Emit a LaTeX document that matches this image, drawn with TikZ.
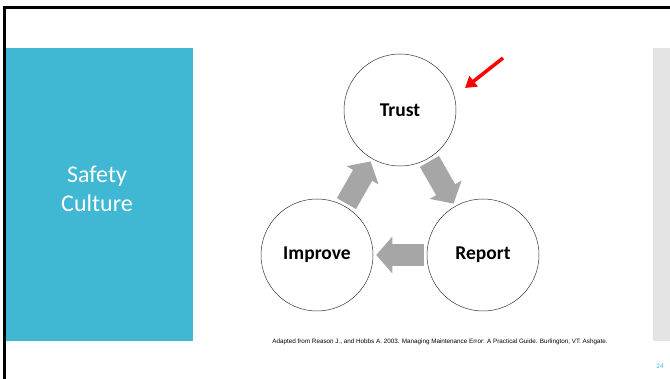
\documentclass[tikz,border=0pt]{standalone}
\usepackage{fontspec}
\setmainfont{Carlito}
\newfontfamily\citefont{Liberation Sans}
\usetikzlibrary{arrows.meta, positioning}

\definecolor{teal}{HTML}{41B8D3}
\definecolor{panel}{HTML}{E4E4E4}
\definecolor{flowgray}{HTML}{A6A6A6}

\begin{document}
\begin{tikzpicture}[x=1pt, y=-1pt,
  stage/.style={circle, draw=black!80, line width=0.5pt, minimum size=112pt, inner sep=0pt,
    font=\fontsize{19.5}{22}\selectfont\bfseries},
  flow/.style={draw=flowgray, line width=22pt, -{Triangle[length=16pt,width=36pt]},
    shorten >=3pt, shorten <=3pt}]
  \useasboundingbox (0,0) rectangle (670,379);

  % side panels
  \fill[teal] (3,48) rectangle (193,341);
  \fill[panel] (653,48) rectangle (670,341);
  \node[text=white, align=center, font=\fontsize{24}{29}\selectfont] (title) at (97,189) {Safety\\Culture};

  % the cycle
  \node[stage] (trust) at (400,110) {Trust};
  \node[stage] (report) at (483,255) {Report};
  \node[stage] (improve) at (317,255) {Improve};

  \draw[flow] (improve) -- (trust);
  \draw[flow] (trust) -- (report);
  \draw[flow] (report) -- (improve);

  % pointer
  \coordinate (tail) at (503,58);
  \coordinate (head) at (465,88);
  \draw[red, line width=3.5pt, -{Triangle[length=11pt,width=13pt]}] (tail) -- (head);

  \node[font=\citefont\fontsize{6.3}{7}\selectfont] (source) at (440,342)
    {Adapted from Reason J., and Hobbs A. 2003. Managing Maintenance Error: A Practical Guide. Burlington, VT: Ashgate.};
  \node[text=teal, font=\fontsize{7}{8}\selectfont] (page) at (660,366) {24};

  % slide frame
  \draw[line width=2.5pt] (4.5,379) -- (4.5,7.5) -- (670,7.5);
\end{tikzpicture}
\end{document}
